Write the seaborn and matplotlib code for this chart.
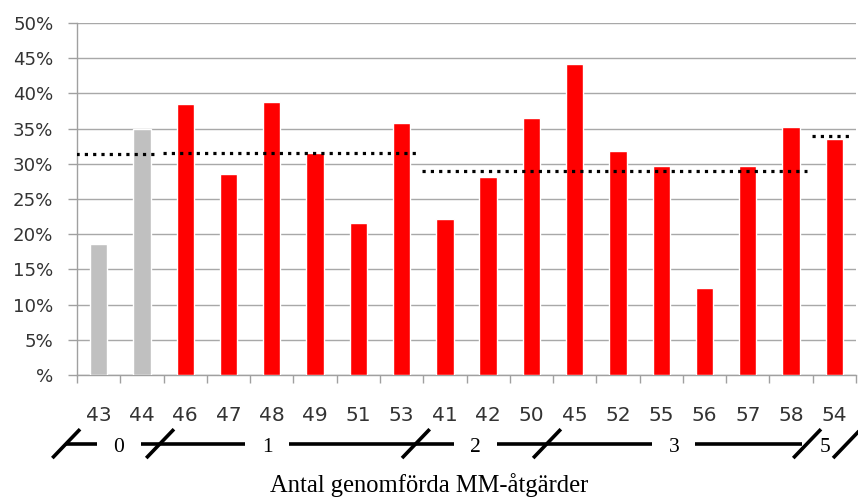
import matplotlib
matplotlib.use("Agg")
import matplotlib.pyplot as plt
import matplotlib.transforms as mtransforms
from matplotlib.lines import Line2D
import seaborn as sns
import pandas as pd
import numpy as np

# ---- data ----
categories = ["43", "44", "46", "47", "48", "49", "51", "53", "41", "42",
              "50", "45", "52", "55", "56", "57", "58", "54"]
values = [18.6, 35.0, 38.5, 28.5, 38.8, 31.6, 21.6, 35.8, 22.2, 28.1,
          36.5, 44.2, 31.8, 29.7, 12.4, 29.7, 35.2, 33.5]
bar_kind = ["grå", "grå"] + ["röd"] * 16
# average lines (first category index, last category index, level %)
avg_first = [0, 2, 8, 17]
avg_last = [1, 7, 16, 17]
avg_level = [31.4, 31.6, 29.0, 34.0]
# group labels along the bottom
group_labels = ["0", "1", "2", "3", "5"]
group_label_pos = [0.47, 3.89, 8.70, 13.29, 16.78]
group_breaks = [-0.75, 1.42, 7.33, 10.36, 16.37, 17.29]
ytick_values = [0, 5, 10, 15, 20, 25, 30, 35, 40, 45, 50]
ytick_labels = ["%", "5%", "10%", "15%", "20%", "25%", "30%", "35%", "40%", "45%", "50%"]
xlabel = "Antal genomförda MM-åtgärder"

df = pd.DataFrame({"kat": categories, "val": values, "typ": bar_kind})

sns.set_theme(style="white")
plt.rcParams["font.family"] = ["DejaVu Sans"]

fig = plt.figure(figsize=(8.58, 4.98), dpi=100)
ax = fig.add_axes([77 / 858, 1 - 375 / 498, (856 - 77) / 858, 352 / 498])

sns.barplot(data=df, x="kat", y="val", hue="typ", order=categories,
            palette={"grå": "#c0c0c0", "röd": "#ff0000"}, dodge=False,
            width=0.4, saturation=1, legend=False, ax=ax, zorder=3)

# average dotted lines
for f, l, lev in zip(avg_first, avg_last, avg_level):
    ax.hlines(lev, f - 0.52, l + 0.5 - 0.13, colors="black", linewidth=2.3,
              linestyles=(0, (1, 1.6)), zorder=4)

ax.set_xlim(-0.5, len(categories) - 0.5)
ax.set_ylim(0, 50)
ax.set_yticks(ytick_values)
ax.set_yticklabels(ytick_labels)
ax.yaxis.grid(True, color="#a8a8a8", linewidth=1.0, zorder=0)
ax.set_axisbelow(True)
ax.set_xlabel("")
ax.set_ylabel("")

for s in ["top", "right"]:
    ax.spines[s].set_visible(False)
for s in ["left", "bottom"]:
    ax.spines[s].set_color("#a0a0a0")
    ax.spines[s].set_linewidth(1.0)

ax.tick_params(axis="y", which="major", direction="out", length=6.5, width=1,
               color="#a0a0a0", pad=10.5, labelsize=13.1, labelcolor="#333333", left=True)
ax.set_xticks(range(len(categories)))
ax.set_xticklabels(categories)
ax.tick_params(axis="x", which="major", length=0, pad=22, labelsize=14.5, labelcolor="#333333")
ax.set_xticks(np.arange(-0.5, len(categories), 1.0), minor=True)
ax.tick_params(axis="x", which="minor", direction="out", length=5.5, width=1,
               color="#a0a0a0", bottom=True)

# group annotation below the axis
trans = mtransforms.blended_transform_factory(ax.transData, ax.transAxes)
y_line = -0.195
gap = 0.5
seg_start = group_breaks[0]
for lbl, pos in zip(group_labels[:-1], group_label_pos[:-1]):
    ax.add_line(Line2D([seg_start, pos - gap], [y_line, y_line], transform=trans,
                       color="black", linewidth=2.6, clip_on=False, solid_capstyle="butt"))
    seg_start = pos + gap
ax.add_line(Line2D([seg_start, group_breaks[4] - 0.12], [y_line, y_line], transform=trans,
                   color="black", linewidth=2.6, clip_on=False, solid_capstyle="butt"))
for b in group_breaks:
    ax.add_line(Line2D([b - 0.32, b + 0.32], [y_line - 0.041, y_line + 0.041], transform=trans,
                       color="black", linewidth=2.6, clip_on=False, solid_capstyle="butt"))
for lbl, pos in zip(group_labels, group_label_pos):
    ax.text(pos, y_line - 0.012, lbl, transform=trans, ha="center", va="center",
            fontsize=15.5, family="Liberation Serif", color="black")

fig.text(0.5, 1 - 485 / 498, xlabel, ha="center", va="center",
         fontsize=17.7, family="Liberation Serif", color="black")

fig.savefig("out.png", dpi=100)
